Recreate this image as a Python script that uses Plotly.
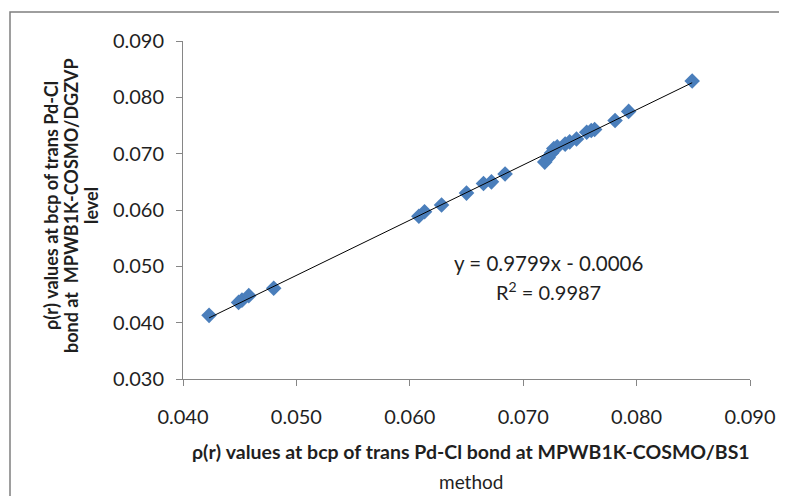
import plotly.graph_objects as go

# Data
x_bs1 = [0.0423, 0.0449, 0.0452, 0.0458, 0.0480,
         0.0608, 0.0613, 0.0628, 0.0650, 0.0665, 0.0672, 0.0684,
         0.0719, 0.0722, 0.0725, 0.0727, 0.0730, 0.0737, 0.0741, 0.0747,
         0.0756, 0.0760, 0.0763, 0.0781, 0.0793, 0.0849]
y_dgzvp = [0.0413, 0.0436, 0.0440, 0.0448, 0.0461,
           0.0589, 0.0597, 0.0609, 0.0630, 0.0647, 0.0650, 0.0664,
           0.0685, 0.0693, 0.0701, 0.0709, 0.0712, 0.0717, 0.0721, 0.0726,
           0.0738, 0.0741, 0.0743, 0.0759, 0.0775, 0.0829]

slope = 0.9799
intercept = -0.0006
equation_text = "y = 0.9799x - 0.0006"
r2_text = "R<sup>2</sup> = 0.9987"

x_ticks = [0.04, 0.05, 0.06, 0.07, 0.08, 0.09]
y_ticks = [0.03, 0.04, 0.05, 0.06, 0.07, 0.08, 0.09]

# page body has an 8px default margin
OFF = 8
W, H = 787 - OFF, 496 - OFF
# target screen pixel positions of the plot area
SL, SR, ST, SB = 183, 750, 41, 379
L, R, T, B = SL - OFF, SR - OFF, ST - OFF, SB - OFF

def px(xs):
    return (xs - OFF - L) / (R - L)

def py(ys):
    return (B - (ys - OFF)) / (B - T)

FONT = "Lato, 'Open Sans', sans-serif"
AXIS_COL = "#868686"
TXT = "#1f1f1f"

fig = go.Figure()

trend_x = [min(x_bs1), max(x_bs1)]
trend_y = [slope * v + intercept for v in trend_x]

fig.add_trace(go.Scatter(
    x=x_bs1, y=y_dgzvp, mode="markers",
    marker=dict(symbol="diamond", size=12, color="#4A7EBB",
                line=dict(width=0)),
    showlegend=False, hoverinfo="x+y"))

fig.add_trace(go.Scatter(
    x=trend_x, y=trend_y, mode="lines",
    line=dict(color="black", width=1),
    showlegend=False, hoverinfo="skip"))

fig.update_layout(
    width=W, height=H,
    margin=dict(l=L, r=W - R, t=T, b=H - B, pad=0),
    paper_bgcolor="white", plot_bgcolor="white",
    font=dict(family=FONT, color=TXT),
    showlegend=False,
)

fig.update_xaxes(
    range=[0.04, 0.09], tickvals=x_ticks, tickformat=".3f",
    showgrid=False, zeroline=False, showline=True, linecolor=AXIS_COL,
    linewidth=1, ticks="outside", tickcolor=AXIS_COL, ticklen=6,
    tickfont=dict(size=20, family=FONT, color=TXT),
    ticklabelstandoff=14,
)
fig.update_yaxes(
    range=[0.03, 0.09], tickvals=y_ticks, tickformat=".3f",
    showgrid=False, zeroline=False, showline=True, linecolor=AXIS_COL,
    linewidth=1, ticks="outside", tickcolor=AXIS_COL, ticklen=6,
    tickfont=dict(size=20, family=FONT, color=TXT),
    ticklabelstandoff=8,
)

ann = []
ann.append(dict(x=px(548), y=py(263), xref="paper", yref="paper",
                text=equation_text, showarrow=False,
                font=dict(size=20.5, family=FONT, color=TXT),
                xanchor="center", yanchor="middle"))
ann.append(dict(x=px(548), y=py(291), xref="paper", yref="paper",
                text=r2_text, showarrow=False,
                font=dict(size=20, family=FONT, color=TXT),
                xanchor="center", yanchor="middle"))
# x axis title
ann.append(dict(x=px(471), y=py(452), xref="paper", yref="paper",
                text="<b>ρ(r) values at bcp of trans Pd-Cl bond at MPWB1K-COSMO/BS1</b>",
                showarrow=False, font=dict(size=19.5, family=FONT, color=TXT),
                xanchor="center", yanchor="middle"))
ann.append(dict(x=px(471), y=py(481), xref="paper", yref="paper",
                text="method", showarrow=False,
                font=dict(size=19, family=FONT, color=TXT),
                xanchor="center", yanchor="middle"))
# y axis title (three lines)
for xs, txt in [(51, "<b>ρ(r) values at bcp of trans Pd-Cl</b>"),
                (71, "<b>bond at  MPWB1K-COSMO/DGZVP</b>"),
                (91, "<b>level</b>")]:
    ann.append(dict(x=px(xs), y=py(206), xref="paper", yref="paper",
                    text=txt, textangle=-90, showarrow=False,
                    font=dict(size=18, family=FONT, color=TXT),
                    xanchor="center", yanchor="middle"))
fig.update_layout(annotations=ann)

# outer chart border (right and bottom edges lie outside the picture)
fig.add_shape(type="rect", xref="paper", yref="paper",
              x0=px(10), x1=px(800), y0=py(510), y1=py(12),
              line=dict(color="#7F7F7F", width=1.5), fillcolor="rgba(0,0,0,0)")

fig.write_html("out.html")
